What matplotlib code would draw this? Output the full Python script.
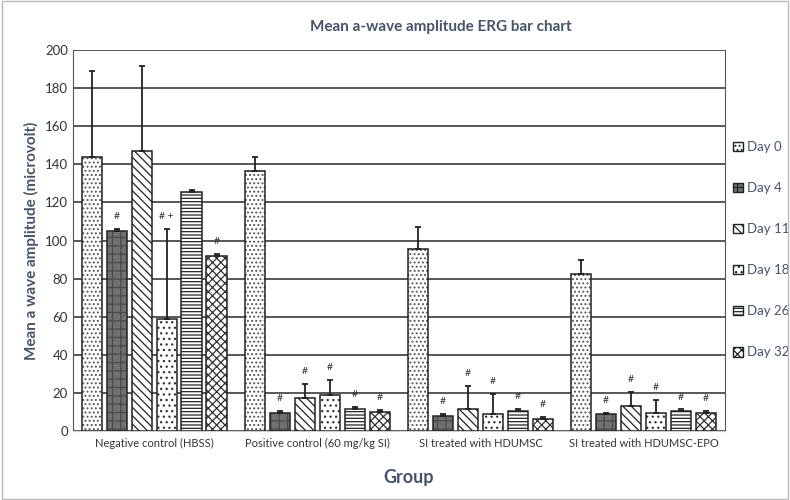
import matplotlib.pyplot as plt
import numpy as np

groups = ['Negative control (HBSS)', 'Positive control (60 mg/kg SI)',
          'SI treated with HDUMSC', 'SI treated with HDUMSC-EPO']
days = ['Day 0', 'Day 4', 'Day 11', 'Day 18', 'Day 26', 'Day 32']

# mean values per day, one value per group
day0 = [144, 136.5, 95.5, 82.4]
day4 = [105, 9.5, 7.9, 9]
day11 = [147, 17.3, 11.6, 13]
day18 = [59, 19, 9, 9.4]
day26 = [125.5, 11.5, 10.5, 10.6]
day32 = [92, 10, 6.3, 9.4]

# upper error (SD)
err0 = [45, 7.5, 11.5, 7.3]
err4 = [1, 1, 1, 0.6]
err11 = [44.6, 7.4, 12, 7.5]
err18 = [47, 7.8, 10.5, 6.9]
err26 = [1, 1.1, 1, 0.8]
err32 = [1, 1, 1, 1.1]

# significance marks above bars
marks = [
    ['', '#', '', '# +', '', '#'],
    ['', '#', '#', '#', '#', '#'],
    ['', '#', '#', '#', '#', '#'],
    ['', '#', '#', '#', '#', '#'],
]

values = [day0, day4, day11, day18, day26, day32]
errors = [err0, err4, err11, err18, err26, err32]
hatches = ['....', '++', '\\\\\\\\', '...', '-----', 'xxxx']
fills = ['white', '#707070', 'white', 'white', 'white', 'white']
hcols = ['#555555', '#4a4a4a', '#222222', '#333333', '#222222', '#333333']

txt = '#44546A'
plt.rcParams['font.family'] = ['Lato', 'DejaVu Sans']
plt.rcParams['hatch.linewidth'] = 0.9

fig = plt.figure(figsize=(7.9, 5), dpi=100)
ax = fig.add_axes([0.092, 0.138, 0.826, 0.762])

x = np.arange(len(groups))
pitch = 0.153
w = 0.125
for j in range(len(days)):
    xs = x + (j - 2.5) * pitch
    # hatch layer then outline
    ax.bar(xs, values[j], w, color=fills[j], edgecolor=hcols[j],
           hatch=hatches[j], linewidth=0, zorder=3)
    ax.bar(xs, values[j], w, fill=False, edgecolor='#222222',
           linewidth=1.1, zorder=3.5)
    ax.errorbar(xs, values[j], yerr=[np.zeros(4), errors[j]], fmt='none',
                ecolor='#222222', elinewidth=1.3, capsize=2.5, capthick=1.3, zorder=4)
    for i in range(len(groups)):
        m = marks[i][j]
        if m:
            top = values[j][i] + errors[j][i]
            ax.text(xs[i], top + 4, m, ha='center', va='bottom', fontsize=7.5, color='#333333')

# legend proxies
handles = [plt.Rectangle((0, 0), 1, 1, facecolor=fills[j], edgecolor='#222222',
                         hatch=hatches[j], linewidth=1) for j in range(len(days))]

ax.set_ylim(0, 200)
ax.set_xlim(-0.5, 3.5)
ax.set_yticks(range(0, 201, 20))
ax.yaxis.grid(True, color='#2a2a2a', linewidth=1.1, zorder=0)
ax.set_xticks(x)
ax.set_xticklabels(groups, fontsize=8, color='#333333')
ax.tick_params(axis='y', labelsize=9.5, colors='#333333', length=0)
ax.tick_params(axis='x', length=0, pad=5)
ax.spines['top'].set_visible(False)
ax.spines['left'].set_color('#555555')
ax.spines['right'].set_color('#555555')
ax.spines['bottom'].set_color('#d0d0d0')

ax.set_title('Mean a-wave amplitude ERG bar chart', fontsize=11, fontweight='bold',
             color=txt, pad=14, x=0.564)
ax.set_ylabel('Mean a wave amplitude (microvolt)', fontsize=11, fontweight='bold', color=txt)
ax.set_xlabel('Group', fontsize=13, fontweight='bold', color=txt, labelpad=18)
ax.xaxis.set_label_coords(0.515, -0.1)

leg = ax.legend(handles, days, loc='upper left', bbox_to_anchor=(0.998, 0.785), frameon=False,
                labelspacing=2.2, handlelength=0.75, handleheight=0.75,
                handletextpad=0.3, fontsize=9.5, borderaxespad=0.3)
for t in leg.get_texts():
    t.set_color(txt)

fig.patches.append(plt.Rectangle((0.002, 0.002), 0.996, 0.996, transform=fig.transFigure,
                                 fill=False, edgecolor='#bbbbbb', linewidth=1))

fig.savefig('out.png', dpi=100)
